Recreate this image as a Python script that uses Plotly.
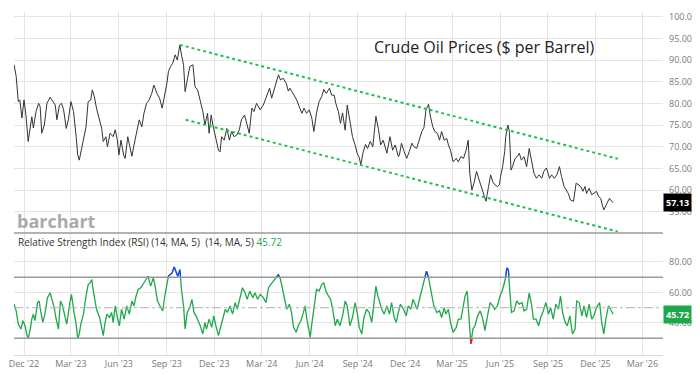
import pandas as pd
import plotly.graph_objects as go

# ---------------- data (days counted from 2022-12-01) ----------------
BASE_DATE = "2022-12-01"

price_days = [
    -19, -15, -11, -8, -4, 0, 4, 8, 15, 18, 23, 28, 31, 34, 39, 44, 50, 55, 60, 63,
    68, 72, 76, 81, 85, 90, 95, 100, 103, 106, 111, 114, 119, 123, 128, 131, 135, 139, 145, 149,
    152, 157, 160, 165, 171, 175, 179, 182, 186, 191, 194, 199, 203, 207, 211, 216, 221, 226, 230, 235,
    240, 245, 249, 255, 260, 265, 269, 274, 277, 281, 285, 290, 294, 299, 302, 306, 309, 313, 318, 324,
    328, 333, 338, 343, 347, 352, 355, 359, 363, 368, 373, 376, 379, 384, 389, 394, 398, 403, 408, 413,
    417, 423, 427, 432, 437, 441, 446, 453, 459, 465, 471, 475, 481, 488, 492, 497, 503, 507, 510, 517,
    523, 528, 533, 537, 542, 547, 552, 556, 561, 566, 571, 575, 580, 586, 590, 595, 598, 603, 607, 611,
    616, 620, 625, 630, 635, 639, 643, 646, 650, 655, 659, 664, 669, 675, 680, 684, 689, 696, 702, 707,
    712, 718, 720, 724, 729, 734, 739, 744, 748, 753, 758, 763, 767, 771, 776, 779, 784, 788, 793, 797,
    801, 806, 811, 814, 818, 823, 829, 833, 838, 843, 848, 852, 855, 859, 863, 868, 873, 878, 882, 886,
    891, 895, 899, 903, 908, 912, 914, 918, 922, 924, 928, 931, 934, 937, 942, 946, 950, 954, 959, 964,
    969, 974, 978, 983, 988, 993, 997, 1002, 1008, 1012, 1017, 1022, 1027, 1031, 1036, 1040, 1044, 1048, 1054, 1059,
    1063, 1068, 1072, 1076, 1079, 1084, 1089, 1093, 1098, 1102, 1106, 1110, 1112, 1118, 1123, 1127, 1130,
]
price_values = [
    88.9, 86.2, 80.4, 80.8, 76.6, 80.8, 76.9, 71.2, 76.9, 74.3, 78.1, 80.0, 79.2, 73.1, 75.0, 80.0, 81.4, 80.4, 79.6, 76.2,
    79.6, 80.0, 78.5, 74.2, 76.2, 80.4, 78.1, 72.3, 68.1, 66.9, 70.0, 71.5, 74.6, 80.4, 80.8, 83.1, 81.5, 78.9, 76.2, 74.2,
    71.2, 72.3, 70.0, 73.1, 72.3, 73.9, 71.5, 68.1, 71.5, 68.1, 67.3, 72.3, 70.0, 67.8, 70.4, 73.5, 76.2, 74.6, 77.7, 80.0,
    80.8, 82.3, 84.2, 82.3, 81.2, 78.9, 81.2, 84.6, 87.3, 88.5, 89.2, 91.2, 90.0, 93.5, 91.2, 88.9, 82.7, 85.4, 88.5, 88.9,
    83.8, 83.1, 80.8, 78.1, 75.0, 77.7, 73.1, 77.3, 74.6, 71.5, 69.2, 68.8, 72.3, 71.5, 74.2, 71.5, 73.5, 72.3, 72.7, 73.9,
    76.2, 77.3, 75.4, 73.1, 78.9, 78.1, 80.0, 78.5, 79.6, 81.5, 83.5, 81.2, 83.5, 86.6, 85.4, 85.8, 84.6, 82.8, 83.5, 81.9,
    80.8, 79.2, 77.7, 78.9, 77.7, 78.5, 76.6, 73.5, 77.8, 80.4, 81.6, 83.2, 82.3, 83.5, 81.9, 81.9, 80.0, 78.1, 75.4, 77.8,
    73.8, 79.6, 76.2, 72.3, 70.4, 68.5, 67.5, 65.8, 68.5, 70.5, 69.6, 71.2, 70.0, 77.0, 73.9, 70.4, 71.5, 68.5, 72.3, 69.2,
    70.4, 67.7, 68.1, 70.8, 68.9, 67.3, 68.9, 70.8, 70.0, 69.6, 71.5, 73.5, 74.3, 78.5, 79.8, 77.3, 74.6, 73.5, 73.1, 71.5,
    73.5, 71.5, 71.9, 70.4, 69.2, 66.5, 67.3, 66.5, 67.7, 67.3, 69.2, 71.5, 63.9, 60.0, 61.6, 64.3, 62.3, 60.4, 58.9, 57.4,
    60.8, 63.5, 61.9, 61.2, 60.8, 61.2, 63.1, 65.4, 68.9, 72.3, 75.0, 73.5, 64.6, 65.4, 67.3, 67.7, 68.5, 66.9, 67.7, 65.4,
    69.6, 66.2, 63.9, 62.7, 63.5, 62.7, 64.3, 65.1, 62.7, 63.5, 62.7, 63.5, 65.4, 63.1, 60.8, 60.0, 59.2, 57.7, 57.4, 61.6,
    61.2, 60.8, 59.7, 60.8, 59.2, 60.4, 58.9, 59.2, 59.7, 58.5, 58.1, 56.2, 55.4, 56.9, 58.1, 57.4, 57.13,
]

rsi_days = [
    -19, -15, -11, -6, -2, 2, 5, 8, 12, 15, 18, 21, 26, 29, 32, 36, 40, 45, 50, 53,
    58, 61, 66, 70, 74, 79, 82, 87, 91, 96, 100, 103, 106, 109, 114, 119, 123, 127, 130, 133,
    136, 139, 145, 149, 152, 155, 159, 164, 168, 171, 175, 179, 183, 187, 192, 197, 202, 207, 211, 215,
    219, 224, 229, 234, 238, 243, 248, 251, 256, 261, 266, 270, 274, 277, 280, 284, 288, 292, 295, 299,
    302, 306, 309, 313, 318, 322, 326, 330, 334, 338, 343, 347, 350, 355, 360, 364, 368, 373, 377, 381,
    386, 390, 395, 400, 405, 409, 414, 419, 424, 428, 433, 439, 443, 448, 453, 459, 464, 469, 473, 478,
    483, 488, 492, 497, 501, 504, 509, 513, 517, 522, 526, 531, 536, 539, 543, 549, 552, 556, 561, 566,
    571, 575, 579, 584, 588, 592, 597, 601, 606, 611, 616, 620, 625, 630, 635, 639, 643, 648, 652, 657,
    662, 667, 670, 675, 678, 682, 686, 691, 696, 701, 705, 710, 714, 718, 722, 728, 733, 737, 742, 746,
    750, 754, 760, 765, 769, 772, 776, 779, 782, 786, 792, 797, 801, 806, 809, 814, 818, 823, 829, 833,
    838, 841, 846, 850, 854, 857, 861, 865, 870, 875, 880, 884, 889, 894, 899, 903, 908, 913, 918, 923,
    926, 929, 932, 935, 940, 945, 950, 955, 959, 964, 969, 974, 977, 982, 987, 991, 996, 1001, 1006, 1010,
    1015, 1020, 1025, 1029, 1033, 1038, 1042, 1047, 1052, 1057, 1060, 1065, 1070, 1074, 1079, 1084, 1089, 1093, 1098, 1104,
    1108, 1112, 1116, 1121, 1125, 1130,
]
rsi_values = [
    52.3, 48.0, 39.3, 36.0, 41.5, 38.2, 32.8, 30.0, 36.0, 42.5, 45.8, 41.5, 53.4, 54.4, 47.9, 40.4, 45.8, 56.6, 59.8, 56.6,
    50.1, 43.6, 36.0, 54.4, 51.2, 43.6, 39.3, 51.2, 58.8, 46.9, 39.3, 29.6, 32.8, 39.3, 45.8, 57.7, 65.2, 66.3, 68.5, 60.9,
    53.4, 49.0, 43.6, 37.1, 31.7, 39.3, 45.8, 43.6, 46.9, 40.4, 51.2, 43.6, 38.2, 49.0, 42.5, 51.2, 45.8, 54.4, 51.2, 57.7,
    62.0, 63.1, 66.3, 68.5, 70.6, 64.2, 69.6, 65.2, 54.4, 51.2, 47.9, 57.7, 64.2, 70.6, 71.7, 72.8, 76.7, 72.8, 70.6, 75.0,
    62.0, 51.2, 36.0, 46.9, 50.1, 55.5, 46.9, 44.7, 41.5, 38.2, 32.8, 40.4, 36.0, 42.5, 37.1, 44.7, 38.2, 31.7, 37.1, 42.5,
    49.0, 46.9, 51.2, 45.8, 53.4, 49.0, 55.5, 63.1, 59.8, 55.5, 60.9, 56.6, 59.8, 55.5, 58.8, 56.6, 53.4, 63.1, 65.2, 67.4,
    69.6, 71.7, 68.5, 60.9, 55.5, 49.0, 52.3, 46.9, 37.1, 33.9, 38.2, 41.5, 46.9, 51.2, 41.5, 30.6, 39.3, 51.2, 62.0, 60.9,
    65.2, 66.3, 60.9, 57.7, 55.5, 49.0, 38.2, 42.5, 38.2, 44.7, 54.4, 51.2, 38.2, 43.6, 53.4, 46.9, 37.1, 32.8, 43.6, 49.0,
    46.9, 40.4, 49.0, 64.2, 58.8, 54.4, 49.0, 45.8, 51.2, 45.8, 53.4, 43.6, 40.4, 47.0, 52.3, 49.0, 44.7, 51.2, 49.0, 55.5,
    52.3, 49.0, 57.7, 65.2, 69.6, 73.9, 69.6, 64.2, 59.8, 51.2, 46.9, 48.0, 43.6, 50.1, 45.8, 49.0, 40.4, 33.9, 37.1, 42.5,
    42.5, 49.0, 57.7, 60.9, 43.6, 26.3, 36.0, 38.2, 44.7, 47.9, 42.5, 35.0, 44.7, 53.4, 51.2, 49.0, 51.2, 57.7, 62.0, 68.5,
    76.0, 75.0, 59.8, 46.9, 47.9, 54.4, 52.3, 53.4, 47.9, 49.0, 59.8, 51.2, 42.5, 42.5, 38.2, 43.6, 47.9, 53.4, 45.8, 50.1,
    42.5, 52.3, 49.0, 57.7, 46.9, 40.4, 38.2, 44.7, 32.8, 36.0, 54.4, 53.4, 44.7, 51.2, 43.6, 52.3, 42.5, 44.7, 50.1, 53.4,
    40.4, 32.8, 42.5, 51.2, 49.0, 45.72,
]

channel_upper_days = [299, 1139]
channel_upper_values = [93.5, 67.2]
channel_lower_days = [310, 1139]
channel_lower_values = [76.2, 50.4]

tick_dates = ["2022-12-01", "2023-03-01", "2023-06-01", "2023-09-01", "2023-12-01", "2024-03-01",
              "2024-06-01", "2024-09-01", "2024-12-01", "2025-03-01", "2025-06-01", "2025-09-01",
              "2025-12-01", "2026-03-01"]
tick_labels = ["Dec '22", "Mar '23", "Jun '23", "Sep '23", "Dec '23", "Mar '24", "Jun '24",
               "Sep '24", "Dec '24", "Mar '25", "Jun '25", "Sep '25", "Dec '25", "Mar '26"]

price_ticks = [55, 60, 65, 70, 75, 80, 85, 90, 95, 100]
rsi_ticks = [40, 60, 80]
last_price = 57.13
last_rsi = 45.72

# ---------------- build ----------------
base = pd.Timestamp(BASE_DATE)
def to_dates(days):
    return [base + pd.Timedelta(days=d) for d in days]

px_dates = to_dates(price_days)
rsi_dates = to_dates(rsi_days)

# page geometry (window 700x375, the html body adds an 8px margin)
OFF = 8
PAGE_W, PAGE_H = 700, 375
PL, PT, PR, PB = 14, 12, 663, 355   # plot area in page pixels
W, H = PAGE_W - OFF, PAGE_H - OFF
ML, MT = PL - OFF, PT - OFF
MR, MB = W - (PR - OFF), H - (PB - OFF)
plot_w, plot_h = PR - PL, PB - PT
sep_px = 233  # bottom of price panel (page px)
rsi_dom_top = (PB - sep_px) / plot_h

def px_x(x):
    return (x - PL) / plot_w
def px_y(y):
    return (PB - y) / plot_h

RSI_MIN, RSI_MAX = 19.0, 99.0
def rsi_frac(v):
    return (v - RSI_MIN) / (RSI_MAX - RSI_MIN) * rsi_dom_top

GREEN = "#1fa84a"
GRID = "#e4e4e4"
LABEL = "#7a7a7a"
FONT = "Open Sans"

fig = go.Figure()
fig.add_trace(go.Scatter(x=px_dates, y=price_values, mode="lines",
                         line=dict(color="#333333", width=1), xaxis="x", yaxis="y",
                         hoverinfo="skip"))
fig.add_trace(go.Scatter(x=to_dates(channel_upper_days), y=channel_upper_values, mode="lines",
                         line=dict(color="#1ec24a", width=2, dash="dot"), xaxis="x", yaxis="y"))
fig.add_trace(go.Scatter(x=to_dates(channel_lower_days), y=channel_lower_values, mode="lines",
                         line=dict(color="#1ec24a", width=2, dash="dot"), xaxis="x", yaxis="y"))
fig.add_trace(go.Scatter(x=rsi_dates, y=rsi_values, mode="lines",
                         line=dict(color=GREEN, width=1.3), xaxis="x", yaxis="y2"))
fig.add_trace(go.Scatter(x=rsi_dates, y=rsi_values, mode="lines",
                         line=dict(color="#1f3fff", width=1.3), xaxis="x", yaxis="y3"))
fig.add_trace(go.Scatter(x=rsi_dates, y=rsi_values, mode="lines",
                         line=dict(color="#ff1a1a", width=1.3), xaxis="x", yaxis="y4"))

x_start = base - pd.Timedelta(days=19.2)
x_end = base + pd.Timedelta(days=1225.6)

fig.update_layout(
    width=W, height=H,
    margin=dict(l=ML, r=MR, t=MT, b=MB, pad=0, autoexpand=False),
    paper_bgcolor="white", plot_bgcolor="rgba(0,0,0,0)",
    showlegend=False,
    font=dict(family=FONT, size=9, color=LABEL),
    xaxis=dict(type="date", range=[x_start, x_end], anchor="y2", domain=[0, 1],
               automargin=False,
               tickmode="array", tickvals=tick_dates, ticktext=tick_labels,
               showgrid=True, gridcolor=GRID, gridwidth=1,
               showline=True, linecolor="#d8d8d8", linewidth=1,
               ticks="", tickfont=dict(size=9, color=LABEL), zeroline=False),
    yaxis=dict(domain=[rsi_dom_top, 1], range=[50.08, 101.08], side="right", anchor="x",
               automargin=False,
               tickmode="array", tickvals=price_ticks, tickformat=".2f",
               showgrid=True, gridcolor=GRID, gridwidth=1, zeroline=False,
               ticks="", tickfont=dict(size=9, color=LABEL), ticklabelstandoff=5),
    yaxis2=dict(domain=[0, rsi_dom_top], range=[RSI_MIN, RSI_MAX], side="right", anchor="x",
                automargin=False,
                tickmode="array", tickvals=rsi_ticks, tickformat=".2f",
                showgrid=True, gridcolor=GRID, gridwidth=1, zeroline=False,
                ticks="", tickfont=dict(size=9, color=LABEL), ticklabelstandoff=5),
    yaxis3=dict(domain=[rsi_frac(70), rsi_dom_top], range=[70, RSI_MAX], anchor="x",
                automargin=False, visible=False, showgrid=False),
    yaxis4=dict(domain=[0, rsi_frac(30)], range=[RSI_MIN, 30], anchor="x",
                automargin=False, visible=False, showgrid=False),
)

shapes = [
    dict(type="line", xref="paper", yref="paper", x0=0, x1=1, y0=rsi_dom_top, y1=rsi_dom_top,
         line=dict(color="#9a9a9a", width=1.5)),
    dict(type="line", xref="paper", yref="y2", x0=0, x1=1, y0=70, y1=70,
         line=dict(color="#9a9a9a", width=1.5)),
    dict(type="line", xref="paper", yref="y2", x0=0, x1=1, y0=30, y1=30,
         line=dict(color="#9a9a9a", width=1.5)),
    dict(type="line", xref="paper", yref="y2", x0=0, x1=1, y0=50, y1=50,
         line=dict(color="#b0b0b0", width=1, dash="dashdot")),
]
fig.update_layout(shapes=shapes)

annotations = [
    dict(text="Crude Oil Prices ($ per Barrel)", xref="paper", yref="paper",
         x=px_x(483.5), y=px_y(47), xanchor="center", yanchor="middle",
         showarrow=False, font=dict(family=FONT, size=16, color="#222222")),
    dict(text="<b>barchart</b>", xref="paper", yref="paper",
         x=px_x(15), y=px_y(221), xanchor="left", yanchor="middle",
         showarrow=False, font=dict(family=FONT, size=18, color="#aaaaaa")),
    dict(text="Relative Strength Index (RSI) (14, MA, 5)  (14, MA, 5) "
              f"<span style='color:{GREEN}'>{last_rsi:.2f}</span>",
         xref="paper", yref="paper",
         x=px_x(16), y=px_y(242), xanchor="left", yanchor="middle",
         showarrow=False, font=dict(family=FONT, size=10, color="#333333")),
    dict(text=f"<b>{last_price:.2f}</b>", xref="paper", yref="y", x=1, y=last_price,
         xanchor="left", yanchor="middle", showarrow=False, bgcolor="#000000",
         borderpad=2, font=dict(family=FONT, size=9, color="white")),
    dict(text=f"<b>{last_rsi:.2f}</b>", xref="paper", yref="y2", x=1, y=last_rsi,
         xanchor="left", yanchor="middle", showarrow=False, bgcolor=GREEN,
         borderpad=2, font=dict(family=FONT, size=9, color="white")),
]
fig.update_layout(annotations=annotations)

fig.write_html("out.html")
